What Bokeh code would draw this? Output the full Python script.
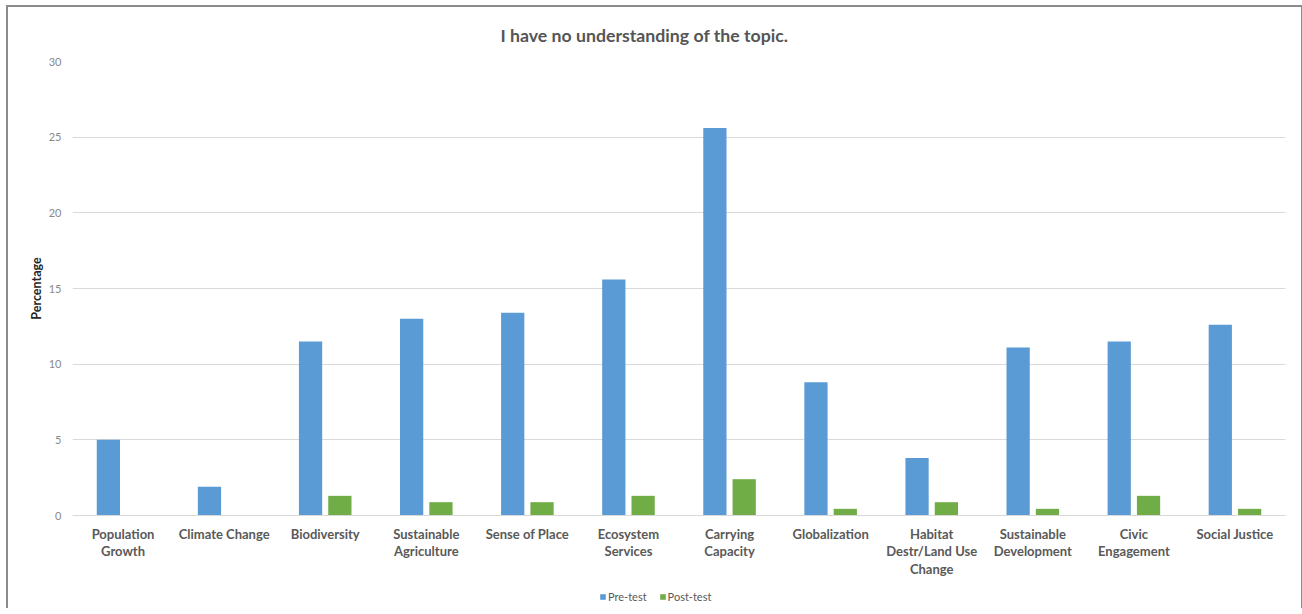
from bokeh.plotting import figure
from bokeh.layouts import column
from bokeh.models import ColumnDataSource, FactorRange, Legend, SingleIntervalTicker
from bokeh.transform import dodge
from bokeh.embed import file_html
from bokeh.resources import INLINE

# Survey topics (axis labels wrap over several lines)
topics = [
    "Population\nGrowth",
    "Climate Change",
    "Biodiversity",
    "Sustainable\nAgriculture",
    "Sense of Place",
    "Ecosystem\nServices",
    "Carrying\nCapacity",
    "Globalization",
    "Habitat\nDestr/Land Use\nChange",
    "Sustainable\nDevelopment",
    "Civic\nEngagement",
    "Social Justice",
]

# Percentage of respondents answering "I have no understanding of the topic."
pre_test = [5.0, 1.9, 11.5, 13.0, 13.4, 15.6, 25.6, 8.8, 3.8, 11.1, 11.5, 12.6]
post_test = [0.0, 0.0, 1.3, 0.88, 0.88, 1.3, 2.4, 0.44, 0.88, 0.44, 1.3, 0.44]

y_ticks_step = 5
y_max = 30

FONT = "Lato"
BLUE = "#5b9bd5"
GREEN = "#70ad47"
W = 1293

source = ColumnDataSource(data=dict(topic=topics, pre=pre_test, post=post_test))
x_range = FactorRange(*topics, range_padding=0)

p = figure(
    x_range=x_range,
    y_range=(0, y_max),
    width=W,
    height=575,
    output_backend="svg",
    toolbar_location=None,
    title="I have no understanding of the topic.",
    min_border_left=64,
    min_border_right=16,
    min_border_top=53,
    min_border_bottom=67,
)
p.vbar(x=dodge("topic", -0.145, range=x_range), top="pre", width=0.23,
       source=source, fill_color=BLUE, line_color=None)
p.vbar(x=dodge("topic", 0.145, range=x_range), top="post", width=0.23,
       source=source, fill_color=GREEN, line_color=None)

# Title
p.title.align = "left"
p.title.offset = 428
p.title.standoff = 31
p.title.text_font = FONT
p.title.text_font_size = "17.7px"
p.title.text_font_style = "bold"
p.title.text_color = "#555555"

# Frame and grid
p.outline_line_color = None
p.xgrid.grid_line_color = None
p.ygrid.grid_line_color = "#d9d9d9"
p.ygrid.grid_line_width = 1
p.yaxis.ticker = SingleIntervalTicker(interval=y_ticks_step)

# Y axis
p.yaxis.axis_line_color = None
p.yaxis.major_tick_line_color = None
p.yaxis.minor_tick_line_color = None
p.yaxis.major_tick_out = 0
p.yaxis.major_label_text_font = FONT
p.yaxis.major_label_text_font_size = "11px"
p.yaxis.major_label_text_color = "#898989"
p.yaxis.major_label_standoff = 7
p.yaxis.axis_label = "Percentage"
p.yaxis.axis_label_text_font = FONT
p.yaxis.axis_label_text_font_size = "12.5px"
p.yaxis.axis_label_text_font_style = "bold"
p.yaxis.axis_label_text_color = "#262626"
p.yaxis.axis_label_standoff = 2

# X axis
p.xaxis.axis_line_color = "#d9d9d9"
p.xaxis.major_tick_line_color = None
p.xaxis.minor_tick_line_color = None
p.xaxis.major_tick_out = 0
p.xaxis.major_label_text_font = FONT
p.xaxis.major_label_text_font_size = "13px"
p.xaxis.major_label_text_font_style = "bold"
p.xaxis.major_label_text_color = "#595959"
p.xaxis.major_label_text_line_height = 1.1
p.xaxis.major_label_standoff = 10

# Strip under the chart that carries the legend. Its renderers are
# zero-width, zero-height bars, so only the legend entries show.
q = figure(
    x_range=x_range,
    y_range=(-2, -1),
    width=W,
    height=26,
    output_backend="svg",
    toolbar_location=None,
    min_border=0,
)
q.axis.visible = False
q.grid.visible = False
q.outline_line_color = None
pre_r = q.vbar(x="topic", bottom="pre", top="pre", width=0,
               source=source, fill_color=BLUE, line_color=None)
post_r = q.vbar(x="topic", bottom="post", top="post", width=0,
                source=source, fill_color=GREEN, line_color=None)

legend = Legend(
    items=[("Pre-test", [pre_r]), ("Post-test", [post_r])],
    orientation="horizontal",
    location=(527, 5),
    label_text_font=FONT,
    label_text_font_size="11px",
    label_text_color="#595959",
    glyph_width=7,
    glyph_height=7,
    label_standoff=2,
    spacing=12,
    border_line_color=None,
    background_fill_alpha=0,
    margin=0,
    padding=2,
)
q.add_layout(legend, "center")

layout = column(p, q, spacing=0)
layout.styles = {"margin-left": "6px", "margin-top": "5px",
                 "border": "2px solid #8c8c8c", "border-bottom": "none"}

open("out.html", "w").write(file_html(layout, INLINE))
